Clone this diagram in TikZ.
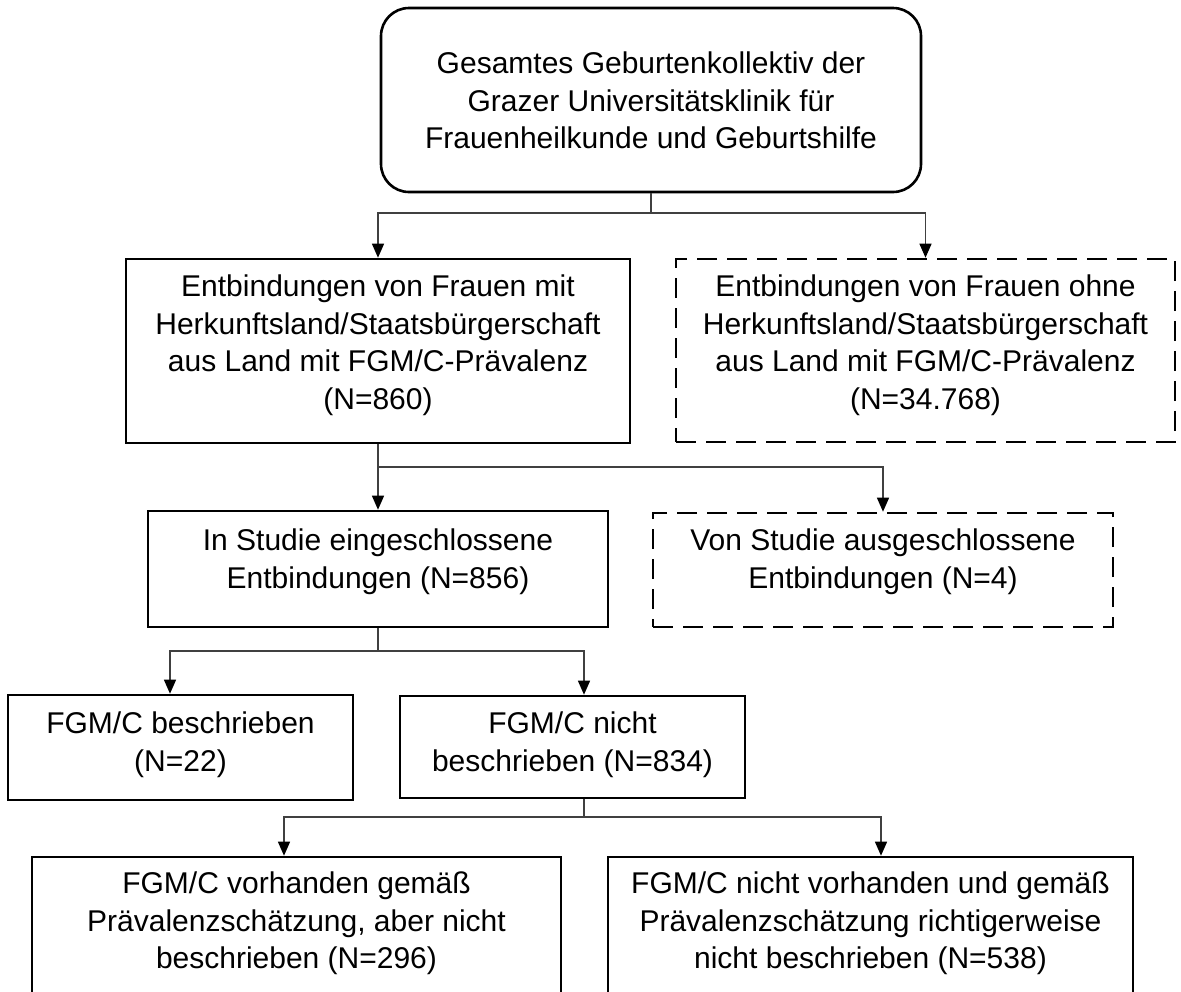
\documentclass[tikz,border=0pt]{standalone}
\usepackage{fontspec}
\setmainfont{Liberation Sans}
\usetikzlibrary{arrows.meta}
\begin{document}
\begin{tikzpicture}[x=1pt,y=-1pt,
  box/.style={draw=black, line width=2.6pt, inner sep=0pt, fill=none},
  dbox/.style={box, dash pattern=on 20pt off 10pt},
  txt/.style={anchor=north, align=center, inner sep=0pt, font=\fontsize{30pt}{37.5pt}\selectfont},
  conn/.style={draw=black!75, line width=1.3pt},
  arr/.style={conn, -{Triangle[length=14pt,width=12pt,color=black]}}
]
\useasboundingbox (0,0) rectangle (1181,991);
\clip (0,0) rectangle (1181,991);

% boxes
\node[box, rounded corners=28pt, minimum width=540pt, minimum height=184pt] (top) at (651,100) {};
\node[box, minimum width=504pt, minimum height=184pt] (A) at (378,351) {};
\node[dbox, minimum width=499pt, minimum height=183pt] (B) at (925.5,350.5) {};
\node[box, minimum width=460pt, minimum height=116pt] (C) at (378,569) {};
\node[dbox, minimum width=460pt, minimum height=114pt] (D) at (883,570) {};
\node[box, minimum width=345pt, minimum height=105pt] (E) at (180.5,747.5) {};
\node[box, minimum width=345pt, minimum height=102pt] (F) at (572.5,747) {};
\node[box, minimum width=529pt, minimum height=183pt] (G) at (296.5,948.5) {};
\node[box, minimum width=525pt, minimum height=183pt] (H) at (870.5,948.5) {};

% texts
\node[txt] (tTop) at ([yshift=-45pt]top.north) {Gesamtes Geburtenkollektiv der\\Grazer Universitätsklinik für\\Frauenheilkunde und Geburtshilfe};
\node[txt] (tA) at ([yshift=-17pt]A.north) {Entbindungen von Frauen mit\\Herkunftsland/Staatsbürgerschaft\\aus Land mit FGM/C-Prävalenz\\(N=860)};
\node[txt] (tB) at ([yshift=-17pt]B.north) {Entbindungen von Frauen ohne\\Herkunftsland/Staatsbürgerschaft\\aus Land mit FGM/C-Prävalenz\\(N=34.768)};
\node[txt] (tC) at ([yshift=-19pt]C.north) {In Studie eingeschlossene\\Entbindungen (N=856)};
\node[txt] (tD) at ([yshift=-17pt]D.north) {Von Studie ausgeschlossene\\Entbindungen (N=4)};
\node[txt] (tE) at ([yshift=-18pt]E.north) {FGM/C beschrieben\\(N=22)};
\node[txt] (tF) at ([yshift=-17pt]F.north) {FGM/C nicht\\beschrieben (N=834)};
\node[txt] (tG) at ([yshift=-16pt]G.north) {FGM/C vorhanden gemäß\\Prävalenzschätzung, aber nicht\\beschrieben (N=296)};
\node[txt] (tH) at ([yshift=-16pt]H.north) {FGM/C nicht vorhanden und gemäß\\Prävalenzschätzung richtigerweise\\nicht beschrieben (N=538)};

% junctions
\coordinate (j1) at (top.south |- 0,213);
\coordinate (j2) at (A.south |- 0,467);
\coordinate (j3) at (C.south |- 0,651);
\coordinate (fOut) at ([xshift=11.5pt]F.south);
\coordinate (j4) at (fOut |- 0,817);

% connectors
\draw[conn] (top.south) -- (j1);
\draw[arr] (j1) -| (A.north);
\draw[arr] (j1) -| (B.north);

\draw[conn] (A.south) -- (j2);
\draw[arr] (j2) -- (C.north);
\draw[arr] (j2) -| (D.north);

\draw[conn] (C.south) -- (j3);
\draw[arr] (j3) -| ([xshift=-10.5pt]E.north);
\draw[arr] (j3) -| ([xshift=11.5pt]F.north);

\draw[conn] (fOut) -- (j4);
\draw[arr] (j4) -| ([xshift=-12.5pt]G.north);
\draw[arr] (j4) -| ([xshift=10.5pt]H.north);
\end{tikzpicture}
\end{document}
